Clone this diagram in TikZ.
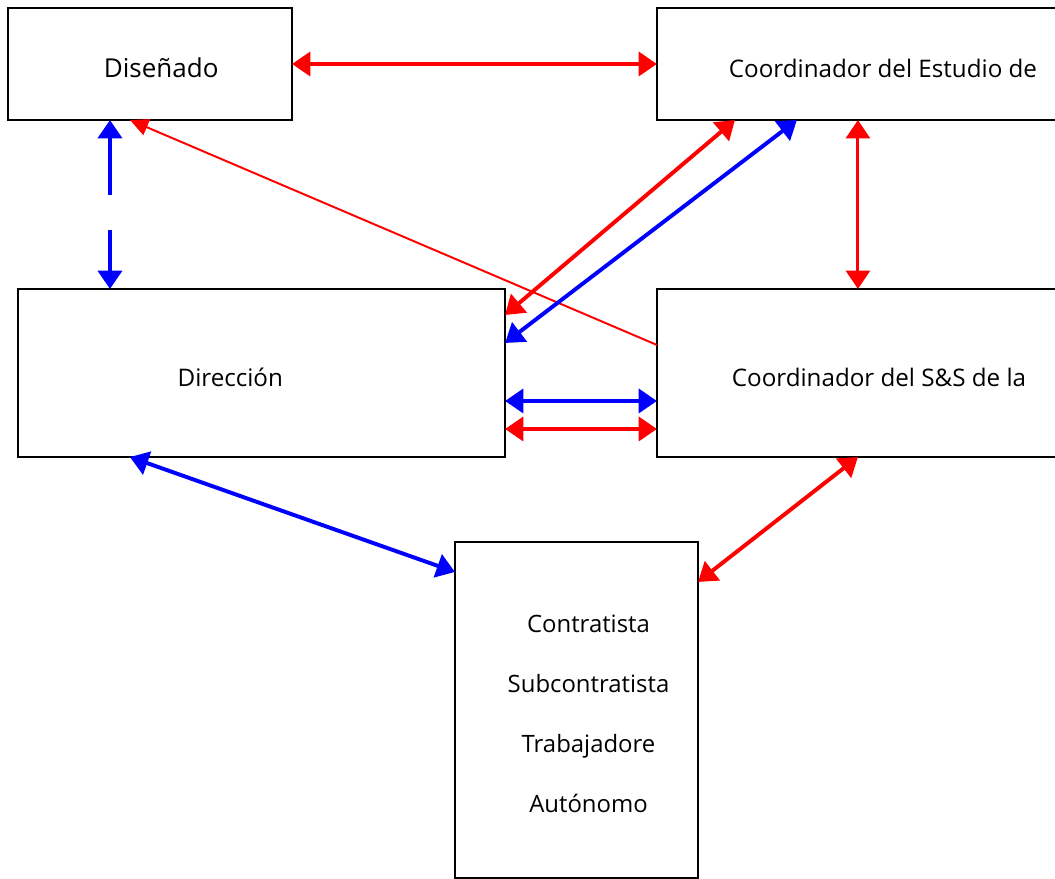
\documentclass[tikz,border=0pt]{standalone}
\usepackage{fontspec}
\setmainfont{Open Sans}
\usepackage{tikz}
\usetikzlibrary{arrows.meta, calc, positioning}
\definecolor{linkred}{RGB}{255, 0, 0}
\definecolor{linkblue}{RGB}{0, 0, 255}

\begin{document}
\begin{tikzpicture}[x=0.025cm, y=-0.025cm,
    box/.style={rectangle, draw=black, line width=1.5pt, fill=white, inner sep=0pt, outer sep=0pt, align=center},
    txt/.style={font=\fontsize{17.2}{20}\selectfont},
    tip/.style={{Triangle[length=13pt, width=17pt]}-{Triangle[length=13pt, width=17pt]}},
    redarrow/.style={tip, line width=2.8pt, color=linkred},
    bluearrow/.style={tip, line width=2.8pt, color=linkblue}]

    \useasboundingbox (0,0) rectangle (1055,879);

    % Nodes
    \node[box, minimum width=7.1cm, minimum height=2.8cm] (dis) at (150,64) {};
    \node[box, minimum width=11.3cm, minimum height=2.8cm] (coe) at (883,64) {};
    \node[box, minimum width=12.175cm, minimum height=4.2cm] (dir) at (261.5,373) {};
    \node[box, minimum width=11.3cm, minimum height=4.2cm] (ss) at (883,373) {};
    \node[box, minimum width=6.075cm, minimum height=8.4cm] (con) at (576.5,710) {};

    \node[font=\fontsize{18.5}{22}\selectfont] at ([xshift=0.28cm, yshift=-0.1cm]dis.center) {Diseñado};
    \node[txt] at ([yshift=-0.1cm]coe.center) {Coordinador del Estudio de};
    \node[txt] at ([xshift=-0.78cm, yshift=-0.12cm]dir.center) {Dirección};
    \node[txt] at ([xshift=-0.1cm, yshift=-0.12cm]ss.center) {Coordinador del S\&S de la};
    \node[align=center, font=\fontsize{17}{42.7}\selectfont] at ([xshift=0.3cm, yshift=-0.1cm]con.center)
        {Contratista\\Subcontratista\\Trabajadore\\Autónomo};

    % Flows
    \draw[redarrow] (dis.east) -- (coe.west);
    \draw[bluearrow, dash pattern=on 1.43cm off 0.875cm] ($(dis.south west)+(102,0)$) coordinate (d1) -- (d1 |- dir.north);
    \draw[linkred, line width=1.4pt, -{Triangle[length=13pt, width=12pt]}] ($(ss.north west)+(0,56)$) -- ($(dis.south west)+(122,0)$);
    \draw[redarrow] ($(coe.south west)+(78,0)$) -- ($(dir.north east)+(0,26)$);
    \draw[bluearrow] ($(coe.south west)+(140,0)$) -- ($(dir.north east)+(0,54)$);
    \draw[redarrow, line width=2.1pt] ($(coe.south west)+(201,0)$) coordinate (r1) -- (r1 |- ss.north);
    \draw[bluearrow] ($(dir.north east)+(0,112)$) coordinate (h1) -- (h1 -| ss.west);
    \draw[redarrow] ($(dir.north east)+(0,140)$) coordinate (h2) -- (h2 -| ss.west);
    \draw[bluearrow] ($(dir.south west)+(112,0)$) -- ($(con.north west)+(0,30)$);
    \draw[redarrow] ($(ss.south west)+(201,0)$) -- ($(con.north east)+(0,40)$);
\end{tikzpicture}
\end{document}
